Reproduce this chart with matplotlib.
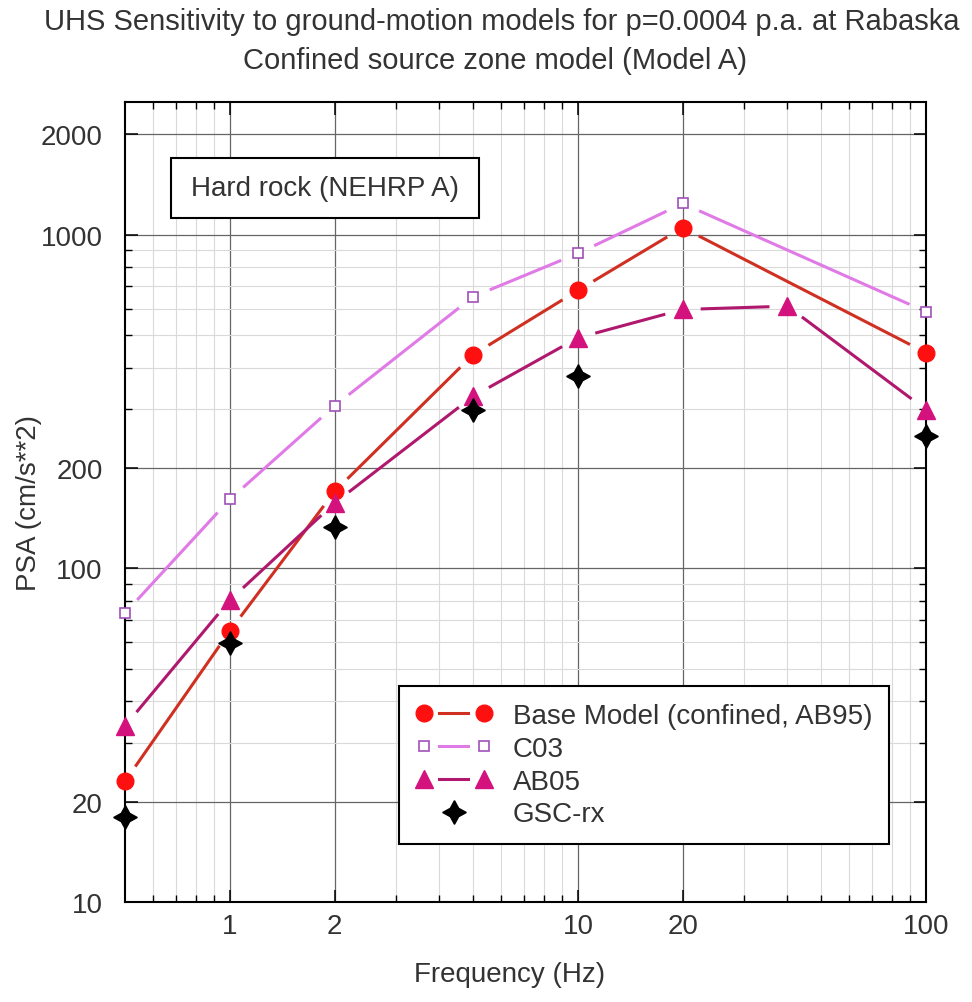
import numpy as np
import matplotlib
matplotlib.use("Agg")
import matplotlib.pyplot as plt
from matplotlib.lines import Line2D
from matplotlib.patches import Rectangle
from matplotlib.legend_handler import HandlerLine2D
from matplotlib.ticker import FixedLocator, NullFormatter

plt.rcParams['font.family'] = ['Liberation Sans', 'DejaVu Sans']

freq = [0.5, 1, 2, 5, 10, 20, 100]
freq_ab05 = [0.5, 1, 2, 5, 10, 20, 40, 100]
freq_gsc = [0.5, 1, 2, 5, 10, 100]
base = [23.0, 64.9, 170, 437, 681, 1050, 443]
c03 = [73.4, 161, 307, 652, 879, 1241, 588]
ab05 = [33.7, 80.3, 157, 328, 491, 597, 611, 299]
gsc = [18.0, 59.9, 133, 298, 377, 249]

xticks = [1, 2, 10, 20, 100]
xminor = [0.6, 0.7, 0.8, 0.9, 3, 4, 5, 6, 7, 8, 9, 30, 40, 50, 60, 70, 80, 90]
yticks = [10, 20, 100, 200, 1000, 2000]
yminor = [30, 40, 50, 60, 70, 80, 90, 300, 400, 500, 600, 700, 800, 900]

txt = '#333333'
fs = 20

fig = plt.figure(figsize=(9.72, 10.03), dpi=100)
ax = fig.add_axes([125/972, 1-903/1003, 801/972, 800/1003])
ax.set_xscale('log')
ax.set_yscale('log')
ax.set_xlim(0.5, 100)
ax.set_ylim(10, 2500)

ax.xaxis.set_major_locator(FixedLocator(xticks))
ax.xaxis.set_minor_locator(FixedLocator(xminor))
ax.yaxis.set_major_locator(FixedLocator(yticks))
ax.yaxis.set_minor_locator(FixedLocator(yminor))
ax.set_xticklabels([str(v) for v in xticks])
ax.set_yticklabels([str(v) for v in yticks])
ax.xaxis.set_minor_formatter(NullFormatter())
ax.yaxis.set_minor_formatter(NullFormatter())
ax.tick_params(which='both', direction='in', top=True, right=True, labelsize=fs, labelcolor=txt)
ax.tick_params(which='major', length=9, width=1.1)
ax.tick_params(which='minor', length=5, width=1.0)
ax.tick_params(axis='x', which='major', pad=8)
ax.tick_params(axis='y', which='major', pad=16)
ax.grid(which='major', color='#666666', lw=0.9)
ax.grid(which='minor', color='#dadada', lw=0.8)
ax.set_axisbelow(True)
for s in ax.spines.values():
    s.set_linewidth(1.5)

gap = 18  # px between line end and marker centre


def gapped(x, y, **kw):
    pts = ax.transData.transform(np.column_stack([x, y]))
    inv = ax.transData.inverted()
    for p0, p1 in zip(pts[:-1], pts[1:]):
        d = p1 - p0
        u = d / np.hypot(*d)
        seg = inv.transform([p0 + u*gap, p1 - u*gap])
        ax.plot(seg[:, 0], seg[:, 1], solid_capstyle='butt', **kw)


gapped(freq, base, color='#d03022', lw=2.2, zorder=3)
gapped(freq, c03, color='#e07ae6', lw=2.2, zorder=3)
gapped(freq_ab05, ab05, color='#b0186e', lw=2.2, zorder=3)

ax.plot(freq, base, 'o', ms=12, color='#ff1010', mec='#ff1010', clip_on=False, zorder=5)
ax.plot(freq, c03, 's', ms=6.5, mfc='white', mec='#a050b8', mew=1.2, clip_on=False, zorder=5)
ax.plot(freq_ab05, ab05, '^', ms=13, color='#d4127e', clip_on=False, zorder=6)
ax.plot(freq_gsc, gsc, marker=(4, 1, 0), ls='none', ms=17, color='black', clip_on=False, zorder=7)


class GapHandler(HandlerLine2D):
    def create_artists(self, legend, orig_handle, xdescent, ydescent, width, height, fontsize, trans):
        arts = super().create_artists(legend, orig_handle, xdescent, ydescent, width, height, fontsize, trans)
        out = []
        for a in arts:
            xd = a.get_xdata()
            yd = a.get_ydata()
            g = 0.55 * fontsize
            out.append(Line2D([xd[0] + g, xd[-1] - g], [yd[0], yd[-1]], color=orig_handle.get_color(),
                              lw=orig_handle.get_linewidth(), transform=trans))
            a.set_linestyle('none')
            out.append(a)
        return out


handles = [
    Line2D([], [], color='#d03022', lw=2.2, marker='o', ms=12, mfc='#ff1010', mec='#ff1010'),
    Line2D([], [], color='#e07ae6', lw=2.2, marker='s', ms=6.5, mfc='white', mec='#a050b8', mew=1.2),
    Line2D([], [], color='#b0186e', lw=2.2, marker='^', ms=13, mfc='#d4127e', mec='#d4127e'),
    Line2D([], [], ls='none', marker=(4, 1, 0), ms=17, color='black'),
]
labels = ['Base Model (confined, AB95)', 'C03', 'AB05', 'GSC-rx']
hmap = {handles[0]: GapHandler(), handles[1]: GapHandler(), handles[2]: GapHandler(),
        handles[3]: HandlerLine2D(numpoints=1)}
leg = ax.legend(handles, labels, loc='upper left', bbox_to_anchor=(0.3246, 0.2874), fontsize=fs,
                numpoints=2, handlelength=2.75, handletextpad=0.75, borderpad=0.6, labelspacing=0.25,
                fancybox=False, framealpha=1, edgecolor='black', labelcolor=txt,
                handler_map=hmap)
leg.get_frame().set_linewidth(1.5)
leg.set_zorder(10)

ax.add_patch(Rectangle((0.057, 0.8547), 0.3845, 0.075, transform=ax.transAxes, fc='white',
                       ec='black', lw=1.5, zorder=8))
ax.text(0.057 + 0.3845/2, 0.8547 + 0.075/2, 'Hard rock (NEHRP A)', transform=ax.transAxes,
        ha='center', va='center', fontsize=fs, color=txt, zorder=9)

ax.set_ylabel('PSA (cm/s**2)', fontsize=fs, color=txt)
ax.yaxis.set_label_coords(-0.103, 0.5)
ax.set_xlabel('Frequency (Hz)', fontsize=fs, color=txt)
ax.xaxis.set_label_coords(0.48, -0.0737)

fig.text(502/972, 1-22/1003, 'UHS Sensitivity to ground-motion models for p=0.0004 p.a. at Rabaska',
         ha='center', va='center', fontsize=21, color=txt)
fig.text(495/972, 1-61/1003, 'Confined source zone model (Model A)',
         ha='center', va='center', fontsize=21, color=txt)

fig.savefig('out.png', dpi=100)
